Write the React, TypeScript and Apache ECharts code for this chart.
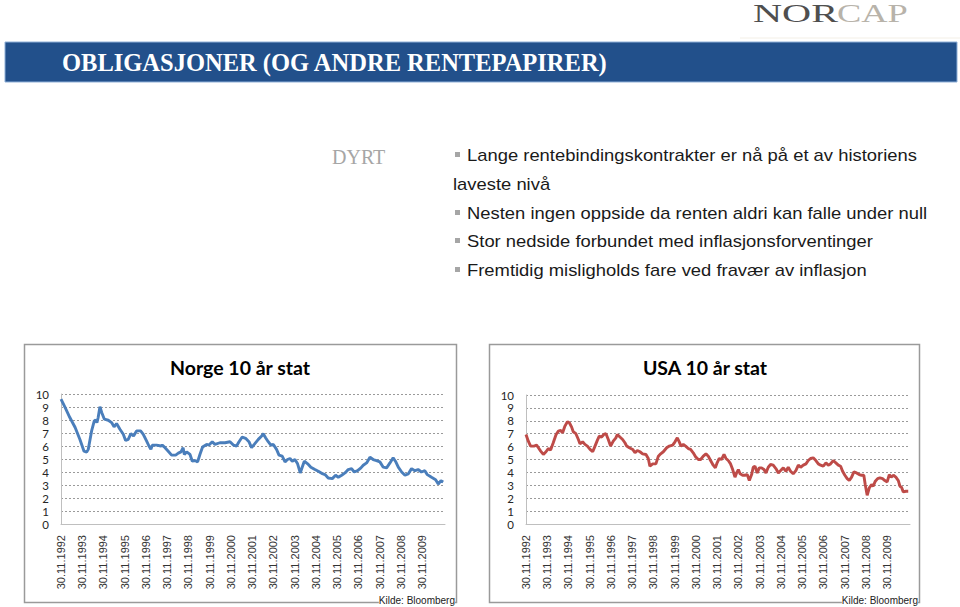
import React, { useEffect, useRef } from "react";
import * as echarts from "echarts";

// Months since 30.11.1992 and 10-year yields (%)
const norgeMonths = [
  0, 2.3, 5, 8, 10.7, 13, 14.5, 15.4, 17.3, 18.8,
  19.6, 20.3, 21, 22, 23, 24.5, 26.7, 28.6, 30, 31.4,
  33.3, 35.2, 36.5, 38, 39.5, 41, 42.7, 45, 46.5, 48.4,
  49.7, 50.8, 51.6, 54, 56.5, 57.2, 58.8, 60.6, 62.5, 64.8,
  66.3, 67.8, 69, 69.7, 71, 72.9, 74.2, 75.7, 77.2, 78.5,
  80, 82.3, 83.6, 85.5, 87, 89.8, 92.7, 95.5, 97.4, 99.2,
  100.6, 102.4, 104.3, 106.2, 107.7, 109.2, 111.5, 113.4, 114.3, 115.6,
  117.1, 118.6, 120, 121.8, 123.2, 125, 126.6, 128, 129.4, 130.7,
  132.2, 133.7, 135.2, 136.3, 137.5, 139.4, 141.2, 143.5, 145.4, 147.3,
  149.2, 151, 153.3, 155.2, 156.7, 158.6, 160.5, 162.3, 164.2, 165.7,
  167.6, 169.5, 170.8, 172.7, 174.6, 176.4, 178.3, 180.2, 182.1, 184,
  185.9, 187.7, 189, 190.6, 192.5, 194.4, 196.2, 198.1, 200, 201.8,
  203.7, 205.6, 207, 209.4, 211.7, 213.2, 214.7, 216,
];
const norgeValues = [
  9.6, 8.97, 8.19, 7.42, 6.5, 5.6, 5.53, 5.74, 7.16, 7.93,
  8.0, 7.8, 8.19, 9.02, 8.58, 8.06, 7.98, 7.8, 7.47, 7.73,
  7.29, 6.9, 6.43, 6.51, 6.95, 6.77, 7.16, 7.16, 6.9, 6.38,
  6.0, 5.74, 6.07, 6.07, 6.0, 6.07, 5.87, 5.6, 5.3, 5.3,
  5.45, 5.55, 5.87, 5.35, 5.55, 5.35, 4.83, 4.88, 4.78, 5.35,
  5.92, 6.12, 6.07, 6.33, 6.12, 6.25, 6.25, 6.33, 6.07, 6.0,
  6.33, 6.69, 6.59, 6.33, 5.87, 6.12, 6.51, 6.77, 6.95, 6.64,
  6.33, 6.07, 6.12, 5.74, 5.3, 5.22, 4.78, 4.96, 5.04, 4.83,
  4.96, 4.63, 3.93, 4.37, 4.83, 4.63, 4.37, 4.19, 4.06, 3.9,
  3.8, 3.54, 3.49, 3.75, 3.59, 3.75, 3.93, 4.19, 4.26, 4.0,
  4.1, 4.32, 4.52, 4.7, 5.14, 4.96, 4.88, 4.78, 4.37, 4.32,
  4.7, 5.09, 4.83, 4.37, 4.0, 3.75, 3.85, 4.26, 4.1, 4.19,
  4.0, 4.1, 3.8, 3.59, 3.41, 3.07, 3.33, 3.23,
];

const usaMonths = [
  0, 1.3, 2.6, 4.5, 6, 7, 8.3, 9.8, 11.3, 12.6,
  13.9, 15.4, 17, 18.3, 19.6, 20.7, 22, 23.4, 24.5, 25.8,
  26.7, 28.2, 29.6, 30.5, 32, 33.3, 34.7, 36.2, 37.7, 39,
  40.3, 41.4, 42.7, 44, 45.2, 46.5, 47.8, 49.3, 50.8, 51.6,
  53.1, 54.6, 55.9, 56.9, 58.4, 60.3, 61.6, 62.9, 64.4, 65.9,
  67.8, 69.1, 70, 71.6, 73.4, 74.8, 76.1, 77.6, 79.5, 81,
  82.9, 84.2, 85.5, 86.6, 87.6, 88.9, 90.2, 91.7, 93, 94.5,
  96, 97.4, 98.7, 100.2, 101.7, 103, 104.3, 105.8, 107, 108,
  109.2, 110.5, 111.9, 113, 114.3, 115.6, 116.8, 118.1, 119, 120,
  121, 122.4, 123.7, 125, 126.2, 127.5, 128.4, 129.4, 130.7, 131.8,
  133.1, 134.5, 135.6, 136.9, 138.2, 139.7, 141.2, 142.6, 143.9, 145.4,
  146.9, 148.2, 149.5, 151, 152.5, 153.9, 155.2, 156.7, 158.2, 159.5,
  160.8, 162.3, 163.8, 165.2, 166.5, 168, 169.5, 170.8, 172.1, 173.6,
  175.1, 176.5, 177.8, 178.9, 180.2, 181.5, 182.7, 184, 185.3, 186.8,
  188.3, 189.6, 190.9, 191.7, 192.8, 194, 195.3, 196.2, 197.4, 198.7,
  200, 201.5, 202.8, 204.1, 205.3, 206.4, 207.6, 209, 210.4, 211.3,
  212.2, 213.2, 214.7, 216,
];
const usaValues = [
  6.94, 6.42, 6.04, 6.04, 6.11, 5.91, 5.65, 5.39, 5.6, 5.85,
  5.73, 6.3, 6.94, 7.2, 7.25, 7.07, 7.59, 7.93, 7.85, 7.51,
  7.15, 7.0, 6.55, 6.22, 6.37, 6.17, 6.04, 5.78, 5.6, 6.04,
  6.48, 6.81, 6.74, 6.94, 7.0, 6.55, 6.04, 6.42, 6.68, 6.94,
  6.74, 6.55, 6.3, 6.04, 5.91, 5.78, 5.52, 5.7, 5.6, 5.44,
  5.39, 5.08, 4.48, 4.66, 4.66, 5.26, 5.44, 5.6, 5.91, 6.04,
  6.11, 6.37, 6.68, 6.37, 6.04, 6.17, 6.04, 5.85, 5.78, 5.52,
  5.18, 5.0, 5.0, 5.26, 5.44, 5.26, 4.92, 4.56, 4.35, 4.74,
  5.08, 5.0, 5.39, 5.08, 4.92, 4.66, 4.22, 3.63, 3.96, 4.22,
  3.89, 3.78, 3.78, 3.83, 3.37, 3.83, 4.4, 4.48, 3.96, 4.35,
  4.35, 4.22, 3.96, 4.4, 4.61, 4.56, 4.3, 3.96, 4.14, 4.35,
  4.09, 4.4, 4.09, 3.89, 4.14, 4.56, 4.4, 4.56, 4.66, 4.92,
  5.08, 5.13, 4.92, 4.66, 4.56, 4.48, 4.74, 4.56, 4.66, 4.92,
  4.74, 4.56, 4.48, 4.09, 3.78, 3.52, 3.37, 3.63, 4.04, 3.96,
  3.83, 3.78, 3.78, 3.06, 2.23, 2.8, 3.06, 2.93, 3.32, 3.52,
  3.58, 3.52, 3.37, 3.26, 3.83, 3.63, 3.78, 3.63, 3.37, 2.93,
  2.85, 2.49, 2.54, 2.54,
];

const firstYear = 1992;
const lastLabelYear = 2009;
const xLabelPrefix = "30.11.";
const yTicks = [0, 10];

const pageTitle = "OBLIGASJONER (OG ANDRE RENTEPAPIRER)";
const sideLabel = "DYRT";
const bullets = [
  { text: "Lange rentebindingskontrakter er nå på et av historiens", bullet: true },
  { text: "laveste nivå", bullet: false },
  { text: "Nesten ingen oppside da renten aldri kan falle under null", bullet: true },
  { text: "Stor nedside forbundet med inflasjonsforventinger", bullet: true },
  { text: "Fremtidig misligholds fare ved fravær av inflasjon", bullet: true },
];
const chartTitles = ["Norge 10 år stat", "USA 10 år stat"];
const sourceText = "Kilde: Bloomberg";

export default function App() {
  const ref = useRef<HTMLDivElement>(null);

  useEffect(() => {
    if (!ref.current) return;
    const chart = echarts.init(ref.current, undefined, { renderer: "svg" });

    const toPairs = (xs: number[], ys: number[]) => xs.map((x, i) => [x, ys[i]]);

    const xFormatter = (v: number) => {
      if (v % 12 !== 0) return "";
      const yr = firstYear + v / 12;
      if (yr > lastLabelYear) return "";
      return xLabelPrefix + yr;
    };

    const makeX = (gridIndex: number) => ({
      type: "value",
      gridIndex,
      min: 0,
      max: 217,
      interval: 12,
      axisLine: { show: true, lineStyle: { color: "#bfbfbf", width: 1 } },
      axisTick: { show: false },
      splitLine: { show: false },
      axisLabel: {
        rotate: 90,
        margin: 11,
        fontFamily: "Liberation Sans",
        fontSize: 11,
        color: "#333333",
        formatter: xFormatter,
        showMaxLabel: false,
      },
    });
    const makeY = (gridIndex: number) => ({
      type: "value",
      gridIndex,
      min: yTicks[0],
      max: yTicks[1],
      interval: 1,
      axisLine: { show: true, lineStyle: { color: "#bfbfbf", width: 1 } },
      axisTick: { show: false },
      splitLine: { show: true, lineStyle: { color: "#9a9a9a", type: [2, 2], width: 1 } },
      axisLabel: {
        margin: 12,
        fontFamily: "Lato",
        fontSize: 11.5,
        lineHeight: 11,
        color: "#262626",
      },
    });

    const bulletGraphics: any[] = [];
    const lineYs = [155, 184, 213, 241, 270];
    bullets.forEach((b, i) => {
      const y = lineYs[i];
      if (b.bullet) {
        bulletGraphics.push({
          type: "rect",
          shape: { x: 455, y: y - 3, width: 5, height: 5 },
          style: { fill: "#a6a6a6" },
        });
      }
      bulletGraphics.push({
        type: "text",
        x: b.bullet ? 467 : 453,
        y,
        scaleX: 1.15,
        style: {
          text: b.text,
          font: "16px 'Liberation Sans'",
          fill: "#1a1a1a",
          textAlign: "left",
          verticalAlign: "middle",
        },
      });
    });

    chart.setOption({
      animation: false,
      backgroundColor: "#ffffff",
      grid: [
        { left: 61, top: 394, width: 384, height: 130 },
        { left: 526, top: 395, width: 384, height: 129 },
      ],
      xAxis: [makeX(0), makeX(1)],
      yAxis: [makeY(0), makeY(1)],
      series: [
        {
          type: "line",
          xAxisIndex: 0,
          yAxisIndex: 0,
          data: toPairs(norgeMonths, norgeValues),
          showSymbol: false,
          lineStyle: { color: "#4a7ebb", width: 2.9 },
          itemStyle: { color: "#4a7ebb" },
          z: 5,
        },
        {
          type: "line",
          xAxisIndex: 1,
          yAxisIndex: 1,
          data: toPairs(usaMonths, usaValues),
          showSymbol: false,
          lineStyle: { color: "#be4b48", width: 2.9 },
          itemStyle: { color: "#be4b48" },
          z: 5,
        },
      ],
      graphic: [
        // logo
        {
          type: "text",
          x: 753,
          y: 13,
          scaleX: 1.55,
          style: {
            text: "NOR",
            font: "26px 'Liberation Serif'",
            fill: "#4f4f4f",
            textAlign: "left",
            verticalAlign: "middle",
          },
        },
        {
          type: "text",
          x: 837,
          y: 13,
          scaleX: 1.4,
          style: {
            text: "CAP",
            font: "26px 'Liberation Serif'",
            fill: "#b8b3aa",
            textAlign: "left",
            verticalAlign: "middle",
          },
        },
        {
          type: "line",
          shape: { x1: 740, y1: 38, x2: 960, y2: 38 },
          style: { stroke: "#f3efe6", lineWidth: 1 },
        },
        // title bar
        {
          type: "rect",
          shape: { x: 5, y: 42, width: 952, height: 40 },
          style: { fill: "#22508b", stroke: "#8fb0d8", lineWidth: 1 },
        },
        {
          type: "text",
          x: 62,
          y: 62,
          style: {
            text: pageTitle,
            font: "bold 24.5px 'Liberation Serif'",
            fill: "#ffffff",
            textAlign: "left",
            verticalAlign: "middle",
          },
        },
        {
          type: "text",
          x: 332,
          y: 157,
          style: {
            text: sideLabel,
            font: "20px 'Liberation Serif'",
            fill: "#a6a6a6",
            textAlign: "left",
            verticalAlign: "middle",
          },
        },
        ...bulletGraphics,
        // chart boxes
        {
          type: "rect",
          shape: { x: 24.5, y: 344.5, width: 432, height: 258 },
          style: { fill: "none", stroke: "#9a9a9a", lineWidth: 1.5 },
          z: -1,
        },
        {
          type: "rect",
          shape: { x: 489.5, y: 344.5, width: 430, height: 258 },
          style: { fill: "none", stroke: "#9a9a9a", lineWidth: 1.5 },
          z: -1,
        },
        {
          type: "text",
          x: 240,
          y: 367,
          style: {
            text: chartTitles[0],
            font: "bold 19.5px Lato",
            fill: "#000000",
            textAlign: "center",
            verticalAlign: "middle",
          },
        },
        {
          type: "text",
          x: 705,
          y: 367,
          style: {
            text: chartTitles[1],
            font: "bold 19.5px Lato",
            fill: "#000000",
            textAlign: "center",
            verticalAlign: "middle",
          },
        },
        {
          type: "text",
          x: 455,
          y: 600,
          style: {
            text: sourceText,
            font: "10px 'Liberation Sans'",
            fill: "#222222",
            textAlign: "right",
            verticalAlign: "middle",
            backgroundColor: "#ffffff",
          },
        },
        {
          type: "text",
          x: 918,
          y: 600,
          style: {
            text: sourceText,
            font: "10px 'Liberation Sans'",
            fill: "#222222",
            textAlign: "right",
            verticalAlign: "middle",
            backgroundColor: "#ffffff",
          },
        },
      ],
    });

    return () => chart.dispose();
  }, []);

  return (
    <div
      ref={ref}
      style={{ position: "absolute", left: 0, top: 0, width: 960, height: 607 }}
    />
  );
}
